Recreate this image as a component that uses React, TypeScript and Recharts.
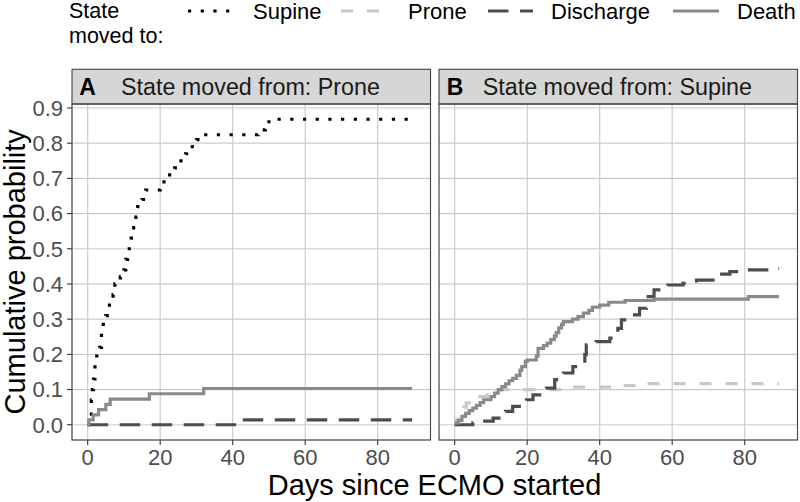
import { CartesianGrid, Line, LineChart, XAxis, YAxis } from 'recharts';

// cumulative probability step curves, [day, probability]
const proneToSupine: [number, number][] = [
  [0, 0], [0.5, 0.03], [1, 0.07], [1.3, 0.1], [1.6, 0.13], [2, 0.17], [2.5, 0.2],
  [3.3, 0.22], [3.8, 0.26], [4.3, 0.29], [5, 0.31], [6, 0.34], [7, 0.37], [7.5, 0.4],
  [9, 0.42], [10, 0.44], [10.5, 0.47], [11, 0.5], [12, 0.53], [12.7, 0.56], [13.3, 0.59],
  [13.8, 0.62], [15, 0.64], [16, 0.667], [20, 0.69], [22, 0.71], [24, 0.73], [25, 0.75],
  [27, 0.77], [28, 0.79], [30, 0.81], [31.5, 0.824], [47, 0.838], [49, 0.853], [50, 0.868],
  [89, 0.868],
];
const proneToDischarge: [number, number][] = [[0, 0], [41, 0.014], [89.5, 0.014]];
const proneToDeath: [number, number][] = [
  [0, 0], [0.3, 0.014], [1.5, 0.028], [3, 0.043], [5, 0.058], [6.2, 0.073], [17, 0.088],
  [32, 0.103], [89.5, 0.103],
];

const supineToProne: [number, number][] = [
  [0, 0], [0.5, 0.015], [1.5, 0.035], [2.5, 0.05], [3.2, 0.062], [5, 0.072], [7, 0.08],
  [9, 0.09], [11.5, 0.1], [30, 0.107], [45, 0.111], [52, 0.117], [89.5, 0.117],
];
const supineToDischarge: [number, number][] = [
  [0, 0], [5, 0.005], [7.8, 0.01], [10.6, 0.019], [14, 0.038], [16, 0.052], [19.8, 0.071],
  [21.6, 0.085], [25.3, 0.104], [27.6, 0.128], [30, 0.147], [32.6, 0.165], [35.9, 0.199],
  [36.3, 0.227], [39, 0.236], [42.8, 0.246], [45, 0.274], [46, 0.298], [49, 0.312],
  [51, 0.331], [52.9, 0.364], [55, 0.383], [58.8, 0.397], [63, 0.402], [66.7, 0.411],
  [72.2, 0.428], [75.9, 0.435], [80.5, 0.44], [87, 0.444], [89.5, 0.444],
];
const supineToDeath: [number, number][] = [
  [0, 0.005], [1, 0.012], [2, 0.024], [3, 0.032], [4, 0.04], [5, 0.047], [6, 0.055],
  [7, 0.063], [8, 0.071], [10, 0.08], [11, 0.09], [12, 0.1], [13, 0.108], [14, 0.116],
  [15, 0.125], [16, 0.132], [17, 0.14], [18, 0.155], [18.5, 0.165], [19.5, 0.18], [20, 0.184],
  [22.5, 0.195], [23, 0.217], [24.5, 0.225], [25.5, 0.232], [26.5, 0.242], [27.5, 0.252],
  [28, 0.262], [28.7, 0.275], [29.5, 0.285], [30, 0.293], [32.5, 0.3], [34, 0.307],
  [35.5, 0.317], [37, 0.325], [38, 0.334], [40, 0.34], [42.5, 0.348], [47, 0.353],
  [55, 0.357], [81, 0.364], [89.5, 0.364],
];

const X_TICKS = [0, 20, 40, 60, 80];
const Y_TICKS = [0, 0.1, 0.2, 0.3, 0.4, 0.5, 0.6, 0.7, 0.8, 0.9];
const X_DOMAIN = [-4.33, 94.57];
const Y_DOMAIN = [-0.0434, 0.9114];

const FONT = '"Liberation Sans", Arial, sans-serif';

const STYLES: Record<string, { stroke: string; dash?: string; width: number }> = {
  Supine: { stroke: '#000000', dash: '3.2 9.5', width: 3.2 },
  Prone: { stroke: '#c8c8c8', dash: '12 14', width: 3.2 },
  Discharge: { stroke: '#4d4d4d', dash: '20.5 11.5', width: 3.2 },
  Death: { stroke: '#8a8a8a', width: 3.2 },
};

const PLOT_TOP = 104;
const PLOT_BOTTOM = 440;

const toRows = (pts: [number, number][]) => pts.map(([t, p]) => ({ t, p }));

interface PanelProps {
  left: number;
  width: number;
  yAxisWidth: number;
  series: { name: string; pts: [number, number][] }[];
}

function Panel({ left, width, yAxisWidth, series }: PanelProps) {
  return (
    <div style={{ position: 'absolute', left, top: 0 }}>
      <LineChart width={width} height={502} margin={{ top: PLOT_TOP, right: 0, bottom: 0, left: 0 }}>
        <CartesianGrid stroke="#cccccc" strokeWidth={1.2} />
        <XAxis
          type="number"
          dataKey="t"
          domain={X_DOMAIN}
          ticks={X_TICKS}
          allowDataOverflow
          interval={0}
          height={502 - PLOT_BOTTOM}
          axisLine={false}
          tickSize={5}
          tickMargin={4}
          tickLine={{ stroke: '#333333', strokeWidth: 1.1 }}
          tick={{ fontSize: 22, fill: '#4d4d4d', fontFamily: FONT }}
        />
        <YAxis
          type="number"
          domain={Y_DOMAIN}
          ticks={Y_TICKS}
          allowDataOverflow
          interval={0}
          width={yAxisWidth}
          hide={yAxisWidth === 0}
          axisLine={false}
          tickSize={5}
          tickMargin={4}
          tickFormatter={(v: number) => v.toFixed(1)}
          tickLine={{ stroke: '#333333', strokeWidth: 1.1 }}
          tick={{ fontSize: 22, fill: '#4d4d4d', fontFamily: FONT }}
        />
        {series.map((s) => (
          <Line
            key={s.name}
            data={toRows(s.pts)}
            dataKey="p"
            type="stepAfter"
            stroke={STYLES[s.name].stroke}
            strokeWidth={STYLES[s.name].width}
            strokeDasharray={STYLES[s.name].dash}
            dot={false}
            activeDot={false}
            isAnimationActive={false}
          />
        ))}
      </LineChart>
    </div>
  );
}

const LEGEND = [
  { name: 'Supine', x1: 188, x2: 231, tx: 253 },
  { name: 'Prone', x1: 341, x2: 384, tx: 408 },
  { name: 'Discharge', x1: 488, x2: 533, tx: 551 },
  { name: 'Death', x1: 673, x2: 719, tx: 737 },
];

export default function App() {
  const panels = [
    { x0: 72, x1: 430.5, letter: 'A', lx: 79.3, tx: 121, label: 'State moved from: Prone' },
    { x0: 439, x1: 797.5, letter: 'B', lx: 446.7, tx: 482.7, label: 'State moved from: Supine' },
  ];
  return (
    <div style={{ position: 'fixed', left: 0, top: 0, width: 800, height: 502, background: '#ffffff', fontFamily: FONT }}>
      <Panel
        left={0}
        width={430.5}
        yAxisWidth={72}
        series={[
          { name: 'Supine', pts: proneToSupine },
          { name: 'Discharge', pts: proneToDischarge },
          { name: 'Death', pts: proneToDeath },
        ]}
      />
      <Panel
        left={439}
        width={358.5}
        yAxisWidth={0}
        series={[
          { name: 'Prone', pts: supineToProne },
          { name: 'Discharge', pts: supineToDischarge },
          { name: 'Death', pts: supineToDeath },
        ]}
      />
      <svg
        width={800}
        height={502}
        style={{ position: 'absolute', left: 0, top: 0, pointerEvents: 'none' }}
        fontFamily={FONT}
      >
        {panels.map((p) => (
          <g key={p.letter}>
            <rect x={p.x0} y={69.3} width={p.x1 - p.x0} height={PLOT_TOP - 69.3} fill="#d6d6d6" stroke="#444444" strokeWidth={1.1} />
            <text x={p.lx} y={95} fontSize={23} fontWeight="bold" fill="#000">{p.letter}</text>
            <text x={p.tx} y={95} fontSize={23.3} fill="#1a1a1a">{p.label}</text>
            <rect x={p.x0} y={PLOT_TOP} width={p.x1 - p.x0} height={PLOT_BOTTOM - PLOT_TOP} fill="none" stroke="#444444" strokeWidth={1.1} />
          </g>
        ))}
        <text x={69} y={18} fontSize={21.5} fill="#000">State</text>
        <text x={69} y={43} fontSize={21.5} fill="#000">moved to:</text>
        {LEGEND.map((l) => (
          <g key={l.name}>
            <line
              x1={l.x1}
              x2={l.x2}
              y1={11}
              y2={11}
              stroke={STYLES[l.name].stroke}
              strokeWidth={STYLES[l.name].width}
              strokeDasharray={STYLES[l.name].dash}
            />
            <text x={l.tx} y={18.5} fontSize={22} fill="#000">{l.name}</text>
          </g>
        ))}
        <text x={434.5} y={495} fontSize={29} textAnchor="middle" fill="#000">Days since ECMO started</text>
        <text
          x={0}
          y={0}
          fontSize={29}
          textAnchor="middle"
          fill="#000"
          transform={`translate(25, 271.8) rotate(-90)`}
        >
          Cumulative probability
        </text>
      </svg>
    </div>
  );
}
